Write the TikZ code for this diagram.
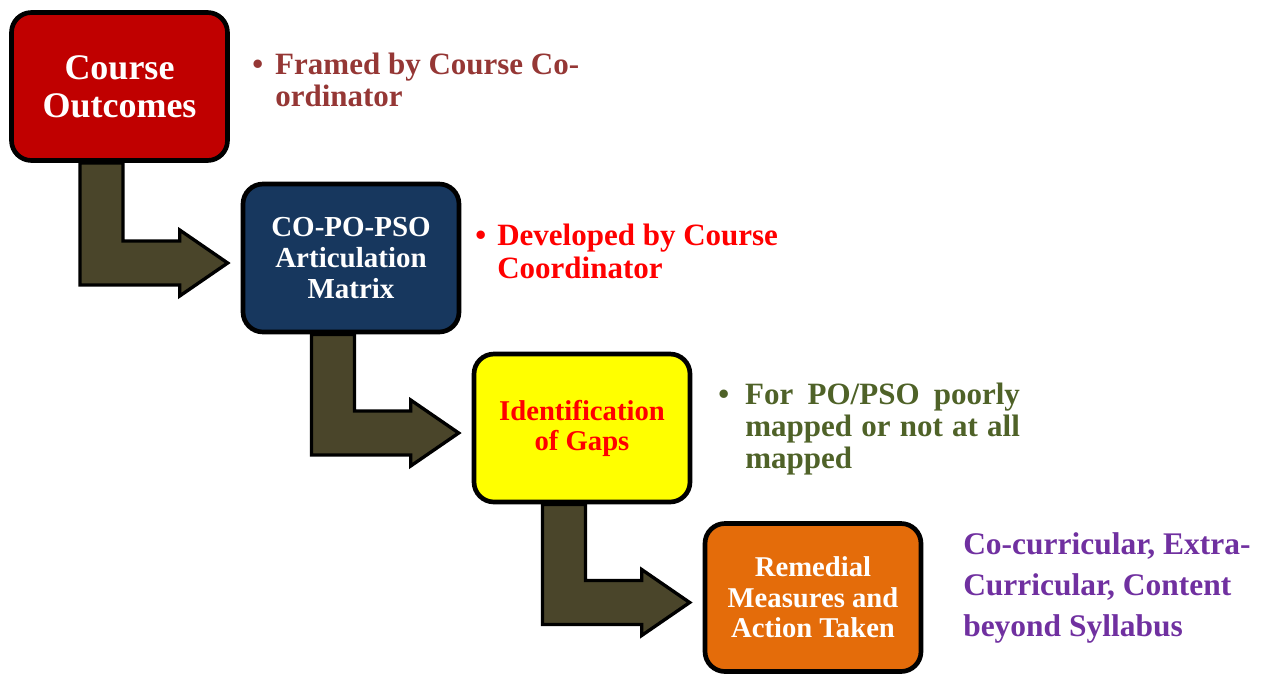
\documentclass[tikz,border=0pt]{standalone}
\usepackage{fontspec}
\setmainfont{Liberation Serif}
\usetikzlibrary{calc}

\definecolor{coRed}{HTML}{C00000}
\definecolor{matNavy}{HTML}{17375E}
\definecolor{gapYellow}{HTML}{FFFF00}
\definecolor{remOrange}{HTML}{E46C0A}
\definecolor{arrowOlive}{HTML}{4A452A}
\definecolor{framedText}{HTML}{953735}
\definecolor{devText}{HTML}{FF0000}
\definecolor{poText}{HTML}{4F6228}
\definecolor{remText}{HTML}{7030A0}

\tikzset{
  stagebox/.style={draw=black, line width=3.5pt, rounded corners=15pt,
    minimum width=162pt, minimum height=111pt, align=center, inner sep=2pt},
  bent/.style={draw=black, fill=arrowOlive, line width=2.5pt, line join=miter},
  side/.style={anchor=north west, inner sep=0pt, align=left},
}

\begin{document}
\begin{tikzpicture}[x=0.75pt, y=-0.75pt]
  \useasboundingbox (0,0) rectangle (1271,675);

  % the four stages
  \node[stagebox, fill=coRed, text=white, font=\bfseries\fontsize{27}{28.5}\selectfont]
    (co) at (119.5,86.5) {Course\\Outcomes};
  \node[stagebox, fill=matNavy, text=white, font=\bfseries\fontsize{21.75}{23.25}\selectfont]
    (art) at (351,258) {CO-PO-PSO\\Articulation\\Matrix};
  \node[stagebox, fill=gapYellow, text=devText, font=\bfseries\fontsize{21.5}{22.5}\selectfont]
    (gaps) at (582,428) {Identification\\of Gaps};
  \node[stagebox, fill=remOrange, text=white, font=\bfseries\fontsize{21.5}{23}\selectfont]
    (rem) at (813,597.5) {Remedial\\Measures and\\Action Taken};

  % bent arrows between stages
  \foreach \a/\b in {co/art, art/gaps, gaps/rem}
    \draw[bent] ($(\a.south)+(-39.5,0)$) -- ($(\a.south)+(3.5,0)$)
      |- ($(\b.west)+(-61,-17)$) -- ++(0,-11) -- ($(\b.west)+(-13,5)$)
      -- ($(\b.west)+(-61,38)$) -- ++(0,-11) -| ($(\a.south)+(-39.5,0)$) -- cycle;

  % notes
  \node[side, text=framedText, font=\bfseries\fontsize{23.25}{24}\selectfont] (framed) at (252,52)
    {\strut\makebox[17.25pt][l]{\textbullet}Framed by Course Co-\\\hspace*{17.25pt}ordinator};
  \node[side, text=devText, font=\bfseries\fontsize{23.25}{24.75}\selectfont] (dev) at (475,222)
    {\strut\makebox[16.5pt][l]{\textbullet}Developed by Course\\\hspace*{16.5pt}Coordinator};
  \node[side, text=poText, font=\bfseries\fontsize{23.25}{24}\selectfont] (poor) at (718,382)
    {\strut\makebox[20.25pt][l]{\textbullet}\makebox[206pt][s]{For PO/PSO poorly}\\
     \hspace*{20.25pt}\makebox[206pt][s]{mapped or not at all}\\
     \hspace*{20.25pt}mapped};
  \node[side, text=remText, font=\bfseries\fontsize{23.6}{31}\selectfont] (extra) at (963,525)
    {\strut Co-curricular, Extra-\\Curricular, Content\\beyond Syllabus};
\end{tikzpicture}
\end{document}
